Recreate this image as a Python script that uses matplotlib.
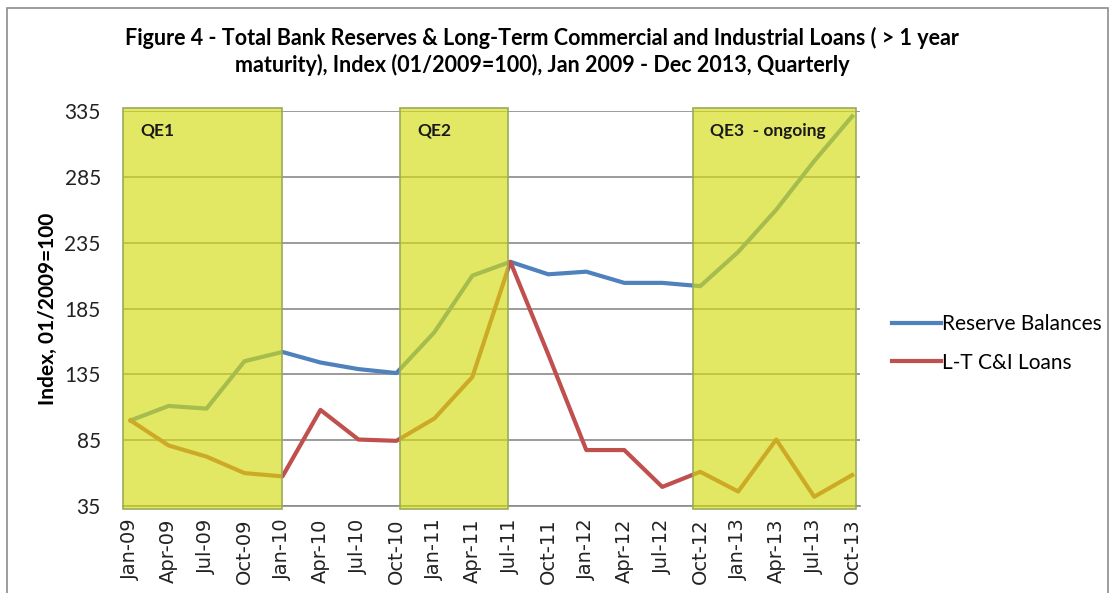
import matplotlib.pyplot as plt
from matplotlib.patches import Rectangle

# quarterly index values, 01/2009 = 100
quarters = ['Jan-09', 'Apr-09', 'Jul-09', 'Oct-09', 'Jan-10', 'Apr-10', 'Jul-10',
            'Oct-10', 'Jan-11', 'Apr-11', 'Jul-11', 'Oct-11', 'Jan-12', 'Apr-12',
            'Jul-12', 'Oct-12', 'Jan-13', 'Apr-13', 'Jul-13', 'Oct-13']
reserves = [100, 111, 109, 145, 152, 144, 139, 136, 167, 210, 220.5, 211,
            213, 204.5, 204.5, 202, 228, 260, 297, 331]
ci_loans = [100, 81, 72.5, 60, 57.5, 108, 85.5, 84.5, 101.5, 133, 220.5, 150,
            77.5, 77.5, 49.5, 61, 46, 85.5, 42, 58.5]

# QE windows as (start, end, label) in quarter positions
qe_periods = [(-0.2, 4.0, 'QE1'), (7.1, 9.95, 'QE2'), (14.8, 19.1, 'QE3  - ongoing')]

yticks = [35, 85, 135, 185, 235, 285, 335]

plt.rcParams['font.family'] = ['Lato', 'DejaVu Sans']

fig = plt.figure(figsize=(11.18, 5.93), dpi=100)
ax = fig.add_axes([0.110, 0.1467, 0.659, 0.666])

x = list(range(len(quarters)))
ax.plot(x, reserves, color='#4F81BD', lw=3, label='Reserve Balances', zorder=3)
ax.plot(x, ci_loans, color='#C0504D', lw=3, label='L-T C&I Loans', zorder=3)

# translucent yellow boxes on top of the lines
for x0, x1, name in qe_periods:
    ax.add_patch(Rectangle((x0, 33), x1 - x0, 304.5, facecolor=(213/255, 220/255, 17/255),
                           alpha=0.65, edgecolor='none', zorder=4, clip_on=False))
    ax.add_patch(Rectangle((x0, 33), x1 - x0, 304.5, facecolor='none',
                           edgecolor='#9aab5a', lw=1.2, zorder=5, clip_on=False))
    ax.text(x0 + 0.45, 320, name, fontsize=12.5, fontweight='bold', color='#1a1a1a',
            va='center', ha='left', zorder=6)

ax.set_xlim(-0.2, 19.2)
ax.set_ylim(35, 335)
ax.set_yticks(yticks)
ax.set_xticks(x)
ax.set_xticklabels(quarters, rotation=90, fontsize=14, family='DejaVu Sans', color='#222222')
ax.tick_params(axis='y', labelsize=15, length=0, pad=16, labelcolor='#222222')
ax.tick_params(axis='x', length=0, pad=9)
ax.grid(axis='y', color='#8a8a8a', lw=1.2)
ax.set_axisbelow(True)
for side in ['top', 'right', 'left']:
    ax.spines[side].set_visible(False)
ax.spines['bottom'].set_color('#8a8a8a')
ax.spines['bottom'].set_linewidth(1.2)

ax.set_ylabel('Index, 01/2009=100', fontsize=15, fontweight='bold')
ax.yaxis.set_label_coords(-0.088, 0.5)

fig.text(0.485, 0.936, 'Figure 4 - Total Bank Reserves & Long-Term Commercial and Industrial Loans ( > 1 year',
         ha='center', va='center', fontsize=15.5, fontweight='bold')
fig.text(0.485, 0.891, 'maturity), Index (01/2009=100), Jan 2009 - Dec 2013, Quarterly',
         ha='center', va='center', fontsize=15.5, fontweight='bold')

ax.legend(loc='center left', bbox_to_anchor=(1.018, 0.412), frameon=False, fontsize=15,
          handlelength=2.35, handletextpad=0.05, labelspacing=0.9)

# outer chart border
fig.patches.append(Rectangle((7 / 1118, -0.05), 1101 / 1118, 1.05 - 8 / 593,
                             transform=fig.transFigure, facecolor='none',
                             edgecolor='#8c8c8c', lw=1.2))

fig.savefig('out.png', dpi=100)
